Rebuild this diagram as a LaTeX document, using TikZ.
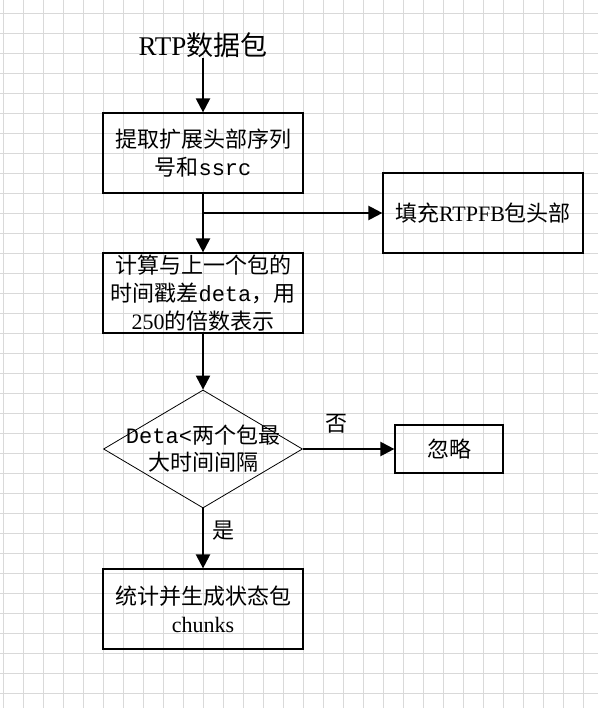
\documentclass[tikz,border=0pt]{standalone}
\usepackage{fontspec}
\setmainfont{Liberation Serif}
\setmonofont{Liberation Mono}
\newfontfamily\zhfont{Noto Sans CJK SC}
\newcommand{\zh}[1]{{\zhfont #1}}
\usetikzlibrary{positioning,shapes.geometric,arrows.meta}

\begin{document}
\begin{tikzpicture}[x=1pt,y=-1pt,
    >={Triangle[width=14pt,length=14pt]},
    gridline/.style={draw=gray!30,line width=0.8pt},
    process/.style={rectangle,draw,line width=1.2pt,minimum width=200pt,
    minimum height=80pt,inner sep=0pt,align=center,
    font=\fontsize{22}{28}\selectfont},
    decision/.style={diamond,draw,line width=0.8pt,minimum width=199pt,
    minimum height=118pt,inner sep=0pt},
    flow/.style={->,line width=2.2pt},
    tag/.style={font=\fontsize{22}{27}\selectfont}
    ]
    \useasboundingbox (0,0) rectangle (598,708);
    \foreach \gx in {3,23,...,583} \draw[gridline] (\gx,0) -- (\gx,708);
    \foreach \gy in {13,33,...,693} \draw[gridline] (0,\gy) -- (598,\gy);
    % boxes
    \node[inner sep=0pt,font=\fontsize{27}{30}\selectfont] (title) at (203,45) {RTP\zh{数据包}};
    \node[process] (extract) at (203,153) {\zh{提取扩展头部序列}\\\zh{号和}\texttt{ssrc}};
    \node[process] (fill) at (483,213) {\zh{填充}RTPFB\zh{包头部}};
    \node[process] (calc) at (203,293) {\zh{计算与上一个包的}\\\zh{时间戳差}\texttt{deta}\zh{，用}\\250\zh{的倍数表示}};
    \node[decision] (cond) at (203,449) {};
    \node[tag,align=center] (condtext) at (cond) {\texttt{Deta<}\zh{两个包最}\\\zh{大时间间隔}};
    \node[process,minimum width=108pt,minimum height=48pt] (ignore) at (449,449) {\zh{忽略}};
    \node[process] (stats) at (203,609) {\zh{统计并生成状态包}\\chunks};
    \node[tag] (no) at (336,424) {\zh{否}};
    \node[tag] (yes) at (223,531) {\zh{是}};
    \coordinate (split) at (203,213);
    % arrows
    \draw[flow] (title.south) -- (extract.north);
    \draw[flow] (extract.south) -- (calc.north);
    \draw[flow] (split) -- (fill.west);
    \draw[flow] (calc.south) -- (cond.north);
    \draw[flow] (cond.east) -- (ignore.west);
    \draw[flow] (cond.south) -- (stats.north);
\end{tikzpicture}
\end{document}
